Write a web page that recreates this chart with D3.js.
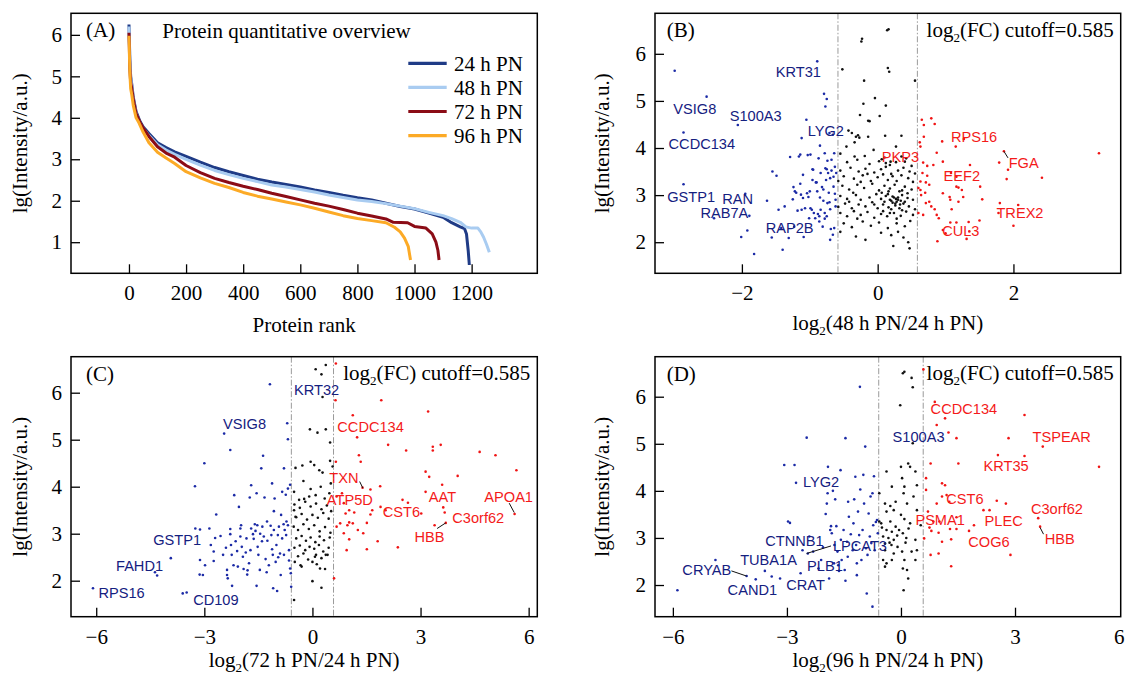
<!DOCTYPE html>
<html>
<head>
<meta charset="utf-8">
<script src="https://cdn.jsdelivr.net/npm/d3@7"></script>
<style>
  body { margin: 0; background: #fff; }
</style>
</head>
<body>
<svg id="chart" width="1125" height="675"></svg>
<script>
// ---- Panel A: rank curves ----
const seriesNames = ['24 h PN', '48 h PN', '72 h PN', '96 h PN'];
const rank24 = [0,1,3,6,10,15,25,38,50,70,100,130,160,200,250,300,350,400,450,500,550,600,650,700,750,800,850,900,950,1000,1050,1100,1130,1160,1175,1182,1188,1192];
const int24  = [6.25,6.0,5.4,5.0,4.8,4.5,4.15,3.92,3.78,3.62,3.4,3.28,3.18,3.07,2.93,2.8,2.7,2.61,2.52,2.45,2.39,2.33,2.26,2.2,2.13,2.07,2.02,1.94,1.86,1.8,1.7,1.6,1.47,1.37,1.33,1.2,0.8,0.45];
const rank48 = [0,1,3,6,10,15,25,38,50,70,100,130,160,200,250,300,350,400,450,500,550,600,650,700,750,800,850,900,950,1000,1050,1100,1130,1160,1180,1200,1222,1232,1242,1252,1262];
const int48  = [6.2,5.95,5.35,4.95,4.75,4.45,4.1,3.88,3.74,3.57,3.35,3.22,3.12,3.0,2.86,2.73,2.63,2.54,2.46,2.38,2.33,2.27,2.21,2.14,2.08,2.02,1.98,1.93,1.87,1.81,1.72,1.64,1.57,1.48,1.37,1.34,1.34,1.25,1.12,0.95,0.76];
const rank72 = [0,1,3,6,10,15,25,38,50,70,100,130,160,200,250,300,350,400,450,500,550,600,650,700,750,800,850,900,926,976,1000,1040,1062,1075,1082,1086];
const int72  = [6.05,5.8,5.2,4.85,4.7,4.45,4.1,3.9,3.75,3.55,3.3,3.15,3.05,2.85,2.68,2.54,2.44,2.35,2.27,2.18,2.1,2.02,1.94,1.87,1.79,1.7,1.63,1.56,1.48,1.47,1.38,1.34,1.2,1.0,0.8,0.57];
const rank96 = [0,1,3,6,10,15,25,35,50,70,100,130,160,200,250,300,350,400,450,500,550,600,650,700,750,800,850,900,930,950,965,978,986];
const int96  = [5.98,5.7,5.1,4.7,4.55,4.3,4.0,3.88,3.65,3.4,3.17,3.03,2.9,2.7,2.55,2.42,2.32,2.2,2.11,2.04,1.97,1.9,1.82,1.73,1.64,1.57,1.52,1.47,1.36,1.25,1.1,0.9,0.57];
const rankTicks = [0, 200, 400, 600, 800, 1000, 1200];
const intTicksA = [1, 2, 3, 4, 5, 6];

// ---- Panel B: 48 h vs 24 h ----
const pointsB = [
  // down
  [-2.99,5.64],[-2.52,5.09],[-2.86,4.33],[-2.06,4.49],[-2.86,3.23],[-2.41,2.51],[-1.95,3.03],[-1.89,2.56],[-2.01,2.11],[-1.92,2.25],
  [-1.82,1.75],[-1.63,2.88],[-1.56,2.10],[-1.55,3.50],[-1.49,3.41],[-1.46,2.69],[-1.40,1.84],[-1.37,2.76],[-1.31,2.09],[-1.29,3.81],
  [-1.24,3.17],[-1.18,2.67],[-1.16,3.82],[-1.14,3.24],[-1.13,3.01],[-1.12,4.21],[-1.10,3.43],[-1.09,2.11],[-1.07,2.72],[-1.05,4.60],
  [-1.03,3.85],[-1.02,2.96],[-1.01,2.51],[-1.00,3.08],[-0.97,2.69],[-0.95,3.54],[-0.94,2.62],[-0.92,2.51],[-0.91,3.27],[-0.89,5.84],
  [-0.89,3.08],[-0.87,3.78],[-0.86,2.44],[-0.85,4.05],[-0.84,2.69],[-0.82,3.17],[-0.81,2.33],[-0.79,5.15],[-0.78,3.89],[-0.77,4.88],
  [-0.77,3.57],[-0.76,3.32],[-0.75,5.04],[-0.74,2.83],[-0.73,3.47],[-0.71,4.32],[-0.70,2.05],[-0.69,2.28],[-0.68,3.75],[-0.66,4.28],
  [-0.65,3.39],[-0.64,3.89],[-0.62,2.90],[-0.61,3.47],[-0.66,2.16],[-0.64,2.30],[-0.62,2.76],[-1.23,2.33],[-1.42,2.30],[-0.80,3.12],
  [-0.72,3.05],[-0.68,3.52],[-0.63,3.60],[-0.85,2.95],[-0.70,2.70],[-0.75,2.55],[-0.88,2.60],[-0.96,3.32],[-1.20,3.05],[-1.14,3.86],
  [-0.99,3.86],[-0.74,3.73],[-0.96,3.55],[-0.75,3.55],[-0.84,3.47],[-0.70,3.36],[-0.90,3.27],[-1.22,3.08],[-1.04,3.04],[-0.63,3.03],
  [-1.10,2.94],[-0.80,2.88],[-0.71,2.85],[-1.12,2.69],[-0.99,2.72],[-0.78,2.62],[-0.86,2.55],[-0.78,2.50],[-1.25,2.91],[-0.65,3.18],
  // unchanged
  [0.16,6.52],[0.14,6.50],[-0.24,6.26],[-0.23,6.32],[-0.52,5.67],[0.15,5.70],[0.17,5.62],[-0.20,5.43],[0.55,5.43],[-0.04,5.06],
  [-0.21,4.94],[0.12,4.90],[-0.26,4.70],[0.03,4.68],[-0.14,4.58],[-0.12,4.57],[-0.43,4.37],[-0.38,4.32],[-0.32,4.24],[-0.29,4.27],
  [-0.27,4.22],[-0.14,4.24],[0.11,4.26],[0.35,4.26],[-0.34,4.12],[0.27,4.03],[-0.46,4.03],[-0.55,3.88],[-0.34,3.82],[-0.19,3.83],
  [-0.06,3.96],[0.06,3.76],[0.12,3.68],[0.19,3.71],[0.35,3.82],[0.40,3.71],
  [-0.45,3.70],[-0.30,3.75],[-0.12,3.66],[0.02,3.72],[0.10,3.80],[0.18,3.64],[0.27,3.70],[0.42,3.78],[0.50,3.62],
  [-0.55,3.52],[-0.40,3.58],[-0.28,3.50],[-0.18,3.56],[-0.05,3.48],[0.05,3.55],[0.12,3.60],[0.20,3.45],[0.30,3.52],[0.38,3.58],[0.47,3.50],[0.55,3.46],
  [-0.50,3.40],[-0.35,3.35],[-0.22,3.42],[-0.10,3.30],[0.00,3.38],[0.08,3.44],[0.15,3.32],[0.22,3.40],[0.28,3.30],[0.35,3.42],[0.45,3.36],[0.52,3.28],[-0.58,3.30],[-0.15,3.45],
  [-0.52,3.20],[-0.42,3.12],[-0.30,3.22],[-0.20,3.15],[-0.08,3.24],[0.02,3.10],[0.10,3.20],[0.18,3.14],[0.25,3.22],[0.32,3.08],[0.40,3.18],[0.50,3.12],[-0.36,3.05],[0.06,3.05],
  [-0.55,2.98],[-0.45,2.92],[-0.32,3.00],[-0.25,2.90],[-0.12,2.95],[-0.02,3.02],[0.05,2.92],[0.12,2.98],[0.20,2.88],[0.24,2.95],[0.30,2.90],[0.36,3.00],[0.44,2.94],[0.52,2.90],[0.15,3.02],[0.28,2.86],
  [-0.58,2.75],[-0.48,2.82],[-0.38,2.72],[-0.28,2.80],[-0.18,2.76],[-0.08,2.85],[0.00,2.72],[0.08,2.80],[0.16,2.74],[0.22,2.84],[0.26,2.78],[0.32,2.72],[0.38,2.82],[0.46,2.76],[0.55,2.70],[0.20,2.70],
  [-0.55,2.62],[-0.45,2.55],[-0.35,2.66],[-0.25,2.58],[-0.15,2.64],[-0.05,2.52],[0.05,2.60],[0.14,2.55],[0.24,2.62],[0.34,2.56],[0.42,2.65],[0.52,2.58],
  [-0.50,2.40],[-0.38,2.32],[-0.22,2.44],[-0.10,2.35],[0.02,2.42],[0.15,2.30],[0.28,2.40],[0.40,2.34],[0.48,2.45],
  [-0.55,2.22],[-0.32,2.12],[-0.18,2.05],[0.05,2.20],[0.20,2.15],[0.30,2.22],[0.45,2.00],[0.38,2.10],[0.23,1.92],[0.47,1.87],
  [0.18,2.90],[0.22,2.97],[0.26,2.82],[0.30,2.95],[0.34,2.88],[0.40,2.86],[0.27,2.92],[0.33,2.80],[0.10,2.86],[-0.05,2.80],
  [0.16,3.08],[0.36,3.10],[0.44,3.04],[-0.25,3.28],[-0.42,2.86],[0.08,2.66],[0.18,2.62],[0.36,2.68],[-0.30,2.50],[0.28,2.50],
  // up
  [0.65,4.60],[0.68,4.49],[0.79,4.63],[0.84,4.51],[0.68,4.24],[0.62,4.12],[0.63,4.03],[0.95,4.14],[1.15,4.03],[1.27,4.19],
  [0.87,3.90],[0.67,3.69],[0.73,3.62],[0.82,3.64],[0.96,3.71],[0.66,3.47],[0.73,3.41],[0.63,3.29],[0.71,3.27],[0.76,3.22],
  [0.60,3.15],[0.63,3.11],[1.08,3.47],[1.16,3.39],[1.36,3.64],[1.16,3.18],[1.19,3.16],[1.51,3.18],[1.26,2.96],[0.96,3.04],
  [1.06,2.96],[1.07,2.90],[1.19,2.86],[1.54,2.91],[0.71,2.83],[0.76,2.86],[0.79,2.76],[0.84,2.70],[0.87,2.58],[0.90,2.51],
  [0.67,2.58],[0.60,2.62],[1.09,2.70],[0.96,2.26],[1.07,2.42],[1.16,2.42],[1.34,2.43],[1.35,2.23],[1.31,2.07],[1.50,2.46],
  [0.88,2.02],[1.00,2.19],[1.79,3.69],[1.86,3.93],[1.92,3.54],[1.90,3.34],[2.42,3.37],[3.26,3.89],[1.80,2.83],[1.78,2.62],
  [2.07,2.79],[2.00,2.35],[0.64,3.00],[0.70,3.05],[1.24,3.11]
];
const labelsB = [
  ['KRT31',-1.50,5.62],['VSIG8',-3.01,4.83],['S100A3',-2.18,4.69],['CCDC134',-3.08,4.10],['LYG2',-1.03,4.36],
  ['GSTP1',-3.10,2.97],['RAN',-2.29,2.92],['RAB7A',-2.61,2.62],['RAP2B',-1.65,2.30],
  ['RPS16',1.08,4.24],['PKP3',0.06,3.81],['FGA',1.93,3.69],['EEF2',0.97,3.42],['TREX2',1.75,2.62],['CUL3',0.95,2.24]
];
const leadersB = [[1.86,3.93,1.92,3.79]];

// ---- Panel C: 72 h vs 24 h ----
const pointsC = [
  [-6.09,1.84],[-4.37,2.18],[-4.31,2.11],[-3.93,2.48],[-3.60,1.73],[-3.49,1.75],[-3.26,4.01],[-3.25,3.11],[-3.12,3.09],[-3.12,2.44],
  [-2.98,2.33],[-3.13,2.13],[-3.04,2.12],[-3.00,4.50],[-2.86,3.11],[-2.82,2.76],[-2.74,2.62],[-2.74,2.42],[-2.67,3.41],[-2.70,2.91],
  [-2.48,2.55],[-2.45,5.13],[-2.37,2.23],[-2.37,2.12],[-2.35,2.05],[-2.28,4.78],[-2.28,3.10],[-2.28,2.99],[-2.26,2.76],[-2.24,2.55],
  [-2.23,1.89],[-2.19,2.33],[-2.17,3.82],[-2.13,2.84],[-2.09,2.63],[-2.07,2.30],[-2.04,3.57],[-2.00,3.11],[-2.00,2.94],[-1.98,3.18],
  [-1.96,2.72],[-1.93,2.51],[-1.91,2.25],[-1.83,2.90],[-1.81,2.13],[-1.80,2.22],[-1.76,2.37],[-1.74,3.77],[-1.70,4.03],[-1.72,2.65],
  [-1.70,3.11],[-1.65,2.99],[-1.63,2.89],[-1.58,3.06],[-1.55,1.89],[-1.55,3.86],[-1.53,3.18],[-1.52,2.72],[-1.46,2.23],[-1.42,4.39],
  [-1.40,2.84],[-1.37,4.66],[-1.39,3.15],[-1.35,2.94],[-1.33,3.77],[-1.30,2.46],[-1.27,2.18],[-1.26,3.26],[-1.21,2.33],[-1.18,6.18],
  [-1.16,3.17],[-1.14,2.97],[-1.12,2.67],[-1.12,4.07],[-1.09,1.84],[-1.07,3.48],[-1.07,3.08],[-1.05,3.75],[-1.02,2.40],[-1.00,2.76],
  [-0.98,1.78],[-0.96,2.97],[-0.93,3.15],[-0.90,2.58],[-0.88,2.12],[-0.87,3.40],[-0.84,3.89],[-0.84,2.90],[-0.79,4.39],[-0.79,2.55],
  [-0.77,3.08],[-0.74,3.83],[-0.72,3.26],[-0.70,5.35],[-0.68,5.01],[-0.68,3.96],[-0.65,2.65],[-0.62,2.26],[-0.60,2.16],[-0.59,1.87],
  [-0.62,4.04],[-0.73,2.97],[-0.68,3.18],[-0.65,2.43],[-1.60,3.20],[-1.45,3.00],[-1.25,2.85],[-0.95,2.50],[-1.85,2.60],[-2.40,2.70],
  [-1.10,2.55],[-0.80,3.20],[-1.50,2.55],[-2.55,2.95],
  [-0.51,1.59],[0.09,6.50],[0.37,6.59],[0.25,6.39],[0.28,5.91],[-0.07,5.22],[0.14,5.15],[0.37,5.22],[0.49,4.94],[-0.47,4.40],
  [-0.28,4.45],[-0.05,4.53],[0.05,4.46],[0.19,4.35],[0.28,4.30],[0.49,4.55],[0.56,4.43],[-0.25,4.12],[-0.05,3.95],[0.23,4.00],
  [0.51,4.07],[-0.51,3.89],[-0.37,3.72],[-0.23,3.74],[-0.09,3.79],[0.09,3.82],[0.34,3.75],[0.47,3.86],[-0.51,3.50],[-0.47,3.36],
  [0.00,1.99],[0.25,1.85],[0.21,2.26],[0.00,2.40],[0.07,2.51],[0.37,2.55],[-0.33,2.33],[-0.49,2.40],
  [-0.50,3.62],[-0.35,3.55],[-0.20,3.68],[-0.05,3.58],[0.10,3.64],[0.25,3.52],[0.40,3.60],[0.52,3.48],
  [-0.45,3.35],[-0.30,3.42],[-0.15,3.30],[0.00,3.40],[0.15,3.34],[0.30,3.44],[0.45,3.32],
  [-0.52,3.15],[-0.40,3.08],[-0.25,3.20],[-0.10,3.10],[0.05,3.18],[0.20,3.05],[0.35,3.14],[0.50,3.02],
  [-0.45,2.90],[-0.30,2.95],[-0.18,2.85],[-0.05,2.92],[0.08,2.82],[0.20,2.94],[0.32,2.86],[0.48,2.92],
  [-0.50,2.70],[-0.35,2.75],[-0.20,2.65],[-0.08,2.72],[0.05,2.68],[0.18,2.76],[0.30,2.62],[0.45,2.70],
  [-0.40,2.52],[-0.25,2.58],[-0.12,2.45],[0.10,2.55],[0.25,2.48],[0.42,2.55],[-0.30,2.30],[0.12,2.35],[0.35,2.25],
  [0.65,6.62],[0.64,5.84],[1.91,5.84],[1.12,5.52],[3.21,5.60],[1.24,5.05],[2.10,4.89],[2.60,4.77],[3.34,4.85],[3.34,4.77],
  [3.56,4.89],[4.64,4.74],[5.08,4.67],[1.29,4.67],[1.34,4.53],[0.65,4.53],[3.14,4.32],[3.24,4.21],[4.03,4.23],[5.66,4.35],
  [1.88,4.01],[1.61,3.94],[1.39,3.98],[3.60,4.04],[3.14,3.89],[0.82,3.86],[2.50,3.72],[2.65,3.66],[1.89,3.57],[2.03,3.50],
  [0.67,3.79],[0.87,3.65],[1.02,3.50],[1.16,3.45],[0.92,3.43],[1.66,3.50],[1.61,3.41],[3.02,3.43],[3.63,3.56],[3.67,3.45],
  [3.70,3.23],[5.61,3.42],[3.39,3.18],[0.67,3.15],[0.77,3.22],[0.97,3.18],[1.02,3.24],[1.12,3.22],[1.26,3.08],[1.51,3.23],
  [1.41,3.01],[0.87,3.01],[1.02,2.88],[1.81,2.84],[1.51,2.67],[0.95,2.65],[2.37,2.71],[0.60,2.05]
];
const labelsC = [
  ['KRT32',-0.51,6.06],['VSIG8',-2.48,5.35],['GSTP1',-4.42,2.88],['FAHD1',-5.45,2.31],['RPS16',-5.94,1.75],['CD109',-3.31,1.60],
  ['CCDC134',0.69,5.28],['TXN',0.47,4.19],['ATP5D',0.40,3.72],['AAT',3.23,3.79],['APOA1',4.77,3.79],['CST6',1.95,3.47],
  ['C3orf62',3.88,3.35],['HBB',2.83,2.94]
];
const leadersC = [[1.31,4.11,1.40,3.97],[5.46,3.65,5.60,3.45],[3.46,3.11,3.70,3.23]];

// ---- Panel D: 96 h vs 24 h ----
const pointsD = [
  [-5.88,1.89],[-4.88,2.53],[-4.06,2.19],[-3.82,2.12],[-3.58,2.30],[-3.40,2.18],[-3.18,2.14],[-3.07,4.55],[-2.80,4.55],[-2.97,3.35],
  [-2.92,3.32],[-2.76,4.17],[-2.64,2.25],[-2.59,2.74],[-2.48,5.13],[-2.45,2.67],[-2.41,3.03],[-2.31,2.71],[-2.17,2.35],[-2.10,2.53],
  [-1.95,3.73],[-1.93,3.95],[-1.92,4.51],[-1.89,2.14],[-1.98,3.51],[-1.86,3.17],[-1.84,3.25],[-1.82,3.10],[-1.79,4.00],[-1.76,2.46],
  [-1.73,3.82],[-1.75,2.85],[-1.70,3.25],[-1.67,2.71],[-1.65,2.42],[-1.63,2.30],[-1.59,4.44],[-1.58,2.96],[-1.56,2.53],[-1.51,3.17],
  [-1.48,2.32],[-1.46,5.12],[-1.46,2.09],[-1.42,2.92],[-1.39,3.77],[-1.37,3.45],[-1.32,3.08],[-1.27,2.74],[-1.25,3.31],[-1.23,3.82],
  [-1.20,4.30],[-1.18,2.85],[-1.16,2.46],[-1.13,3.56],[-1.10,3.06],[-1.08,6.21],[-1.07,4.03],[-1.04,2.53],[-1.01,3.17],[-0.99,4.34],
  [-0.97,3.73],[-0.94,4.94],[-0.92,2.78],[-0.90,1.82],[-0.88,2.64],[-0.85,3.52],[-0.82,3.03],[-0.80,3.88],[-0.78,2.89],[-0.75,1.54],
  [-0.75,3.95],[-0.73,3.27],[-0.71,4.31],[-0.69,2.74],[-0.66,3.34],[-0.63,3.38],[-0.61,3.10],[-1.16,2.21],[-2.05,2.80],[-1.40,2.60],
  [0.05,6.50],[0.09,6.53],[0.28,6.40],[0.31,6.20],[-0.02,5.82],[0.31,5.01],[-0.38,4.41],[0.00,4.51],[0.19,4.58],[0.24,4.51],
  [0.38,4.41],[0.03,4.27],[-0.24,4.09],[0.09,4.09],[0.42,4.12],[-0.57,3.95],[0.07,3.95],[0.33,3.88],[-0.42,3.73],[-0.28,3.68],
  [-0.14,3.77],[0.16,3.73],[-0.38,3.56],[-0.19,3.59],[0.00,3.49],[0.42,3.59],[-0.57,3.35],[-0.52,3.31],[-0.28,3.35],[-0.14,3.24],
  [0.09,3.40],[0.24,3.31],[0.52,3.27],[-0.38,3.17],[-0.24,3.13],[-0.05,3.17],[0.05,3.10],[-0.47,3.03],[-0.33,3.00],[-0.19,2.96],
  [0.14,3.00],[0.38,2.96],[-0.42,2.88],[-0.25,2.85],[-0.09,2.81],[0.12,2.90],[0.28,2.71],[-0.42,2.74],[-0.19,2.67],[0.03,2.71],
  [0.42,2.74],[-0.47,2.53],[-0.38,2.46],[-0.24,2.53],[0.09,2.53],[0.38,2.53],[-0.42,2.39],[0.05,2.35],[0.16,2.32],[0.19,2.14],
  [0.07,1.89],[-0.50,3.22],[-0.30,2.90],[0.20,3.20],[-0.10,3.05],
  [0.59,6.58],[0.89,5.89],[1.16,5.54],[3.25,5.61],[0.94,5.40],[1.25,5.24],[1.46,5.12],[2.83,5.12],[3.73,4.94],[0.78,4.58],
  [1.51,4.58],[2.55,4.76],[3.25,4.74],[5.21,4.51],[0.66,4.27],[1.08,4.16],[1.16,4.12],[0.66,4.02],[1.08,3.88],[0.94,3.73],
  [1.20,3.91],[1.27,3.77],[2.52,3.79],[2.76,3.73],[1.46,3.44],[0.71,3.56],[0.85,3.35],[0.75,3.22],[0.80,3.15],[1.01,3.35],
  [1.29,3.19],[1.46,3.19],[1.79,3.15],[1.92,3.27],[2.17,3.59],[2.33,3.59],[0.61,2.99],[1.08,2.92],[1.32,2.97],[0.99,3.11],
  [0.78,2.64],[0.99,2.67],[1.32,2.40],[2.88,2.64],[3.61,3.42],[3.66,3.24]
];
const labelsD = [
  ['CCDC134',0.78,5.75],['S100A3',-0.22,5.16],['TSPEAR',3.46,5.15],['KRT35',2.17,4.53],['LYG2',-2.58,4.19],['CST6',1.19,3.84],
  ['C3orf62',3.42,3.63],['PSMA1',0.38,3.39],['PLEC',2.20,3.36],['HBB',3.78,2.99],['COG6',1.77,2.91],
  ['CTNNB1',-3.57,2.94],['LPCAT3',-1.79,2.83],['TUBA1A',-4.23,2.53],['PLB1',-2.47,2.41],['CRYAB',-5.75,2.32],
  ['CRAT',-3.02,2.00],['CAND1',-4.56,1.89]
];
const leadersD = [[-4.46,2.30,-4.06,2.19],[-2.48,2.67,-1.84,2.83],[3.66,3.22,3.75,3.08]];

const cutoff = 0.585;

// ---- drawing ----
const SERIF = '"Liberation Serif", "Times New Roman", serif';
const SANS = '"Liberation Sans", Arial, sans-serif';
const lineColors = ['#1f3b86', '#a9ccf1', '#8b0c16', '#fcaa26'];
const W = 1125;
const svg = d3.select('#chart');
svg.append('rect').attr('width', W).attr('height', 675).attr('fill', '#fff');

function log2Text(sel, rest) {
  sel.append('tspan').text('log');
  sel.append('tspan').attr('font-size', 13).attr('dy', 5).text('2');
  sel.append('tspan').attr('dy', -5).text(rest);
}

function makeFrame(p) {
  const x = d3.scaleLinear().domain(p.xDomain).range([p.left, p.right]);
  const y = d3.scaleLinear().domain(p.yDomain).range([p.bottom, p.top]);
  const g = svg.append('g');
  const fmt = d3.format('d');

  const xa = g.append('g').attr('transform', `translate(0,${p.bottom})`)
    .call(d3.axisBottom(x).tickValues(p.xTicks).tickFormat(fmt).tickSizeInner(-9).tickSizeOuter(0).tickPadding(12));
  const ya = g.append('g').attr('transform', `translate(${p.left},0)`)
    .call(d3.axisLeft(y).tickValues(p.yTicks).tickFormat(fmt).tickSizeInner(-9).tickSizeOuter(0).tickPadding(9));
  [xa, ya].forEach(a => {
    a.attr('font-family', SERIF).attr('font-size', 21);
    a.select('.domain').remove();
    a.selectAll('.tick line').attr('stroke', '#000').attr('stroke-width', 1.3);
    a.selectAll('.tick text').attr('fill', '#000');
  });
  // a tick label that would run past the page edge is pulled back inside it
  xa.selectAll('.tick text').filter(d => x(d) + 6 > W)
    .attr('text-anchor', 'end').attr('x', d => W - 1 - x(d));

  // y label
  g.append('text')
    .attr('transform', `translate(${p.yLabelX},${(p.top + p.bottom) / 2}) rotate(-90)`)
    .attr('text-anchor', 'middle').attr('dy', '0.35em')
    .attr('font-family', SERIF).attr('font-size', 21)
    .text('lg(Intensity/a.u.)');

  // x label
  const xl = g.append('text')
    .attr('x', (p.left + p.right) / 2).attr('y', p.xLabelY)
    .attr('text-anchor', 'middle')
    .attr('font-family', SERIF).attr('font-size', 21);
  if (p.xLabelLog) log2Text(xl, p.xLabel); else xl.text(p.xLabel);

  // panel letter
  g.append('text').attr('x', p.left + p.letterDx).attr('y', p.top + 24)
    .attr('font-family', SERIF).attr('font-size', 21).text(p.letter);

  return { x, y, g };
}

function drawBox(g, p) {
  g.append('rect')
    .attr('x', p.left).attr('y', p.top)
    .attr('width', p.right - p.left).attr('height', p.bottom - p.top)
    .attr('fill', 'none').attr('stroke', '#000').attr('stroke-width', 1.5);
}

// Panel A
const pA = { left: 71, right: 537.3, top: 13.3, bottom: 273.3, xDomain: [-203, 1430], yDomain: [0.25, 6.52],
  xTicks: rankTicks, yTicks: intTicksA, yLabelX: 20, xLabelY: 332, xLabel: 'Protein rank', letter: '(A)', letterDx: 15 };
(function () {
  const { x, y, g } = makeFrame(pA);
  const data = [[rank24, int24], [rank48, int48], [rank72, int72], [rank96, int96]];
  const line = d3.line().x(d => x(d[0])).y(d => y(d[1]));
  data.forEach(([r, v], i) => {
    g.append('path').datum(d3.zip(r, v))
      .attr('d', line).attr('fill', 'none')
      .attr('stroke', lineColors[i]).attr('stroke-width', 3).attr('stroke-linejoin', 'round');
  });
  g.append('text').attr('x', 162.3).attr('y', 37.5)
    .attr('font-family', SERIF).attr('font-size', 21).text('Protein quantitative overview');
  const lg = g.append('g');
  seriesNames.forEach((name, i) => {
    const yy = 63.3 + i * 24.1;
    lg.append('line').attr('x1', 408.3).attr('x2', 446.7).attr('y1', yy).attr('y2', yy)
      .attr('stroke', lineColors[i]).attr('stroke-width', 3.2);
    lg.append('text').attr('x', 454).attr('y', yy + 7.3)
      .attr('font-family', SERIF).attr('font-size', 21).text(name);
  });
  drawBox(g, pA);
})();

function volcano(p, points, labels, leaders) {
  const { x, y, g } = makeFrame(p);
  [-cutoff, cutoff].forEach(c => {
    g.append('line').attr('x1', x(c)).attr('x2', x(c)).attr('y1', p.top).attr('y2', p.bottom)
      .attr('stroke', '#9a9a9a').attr('stroke-width', 1).attr('stroke-dasharray', '6,2,1.5,2');
  });
  g.append('g').selectAll('circle').data(points).join('circle')
    .attr('cx', d => x(d[0])).attr('cy', d => y(d[1])).attr('r', 1.3)
    .attr('fill', d => d[0] < -cutoff ? '#1b2aa6' : d[0] > cutoff ? '#f01414' : '#111');
  g.append('g').selectAll('line').data(leaders).join('line')
    .attr('x1', d => x(d[0])).attr('y1', d => y(d[1])).attr('x2', d => x(d[2])).attr('y2', d => y(d[3]))
    .attr('stroke', '#111').attr('stroke-width', 1);
  g.append('g').selectAll('text').data(labels).join('text')
    .attr('x', d => x(d[1])).attr('y', d => y(d[2])).attr('dy', '0.36em')
    .attr('font-family', SANS).attr('font-size', 14.6)
    .attr('fill', d => d[1] < 0 ? '#14207f' : '#f41a1a')
    .text(d => d[0]);
  const ann = g.append('text').attr('x', p.right - 7).attr('y', p.top + 23.4)
    .attr('text-anchor', 'end').attr('font-family', SERIF).attr('font-size', 21);
  log2Text(ann, '(FC) cutoff=0.585');
  drawBox(g, p);
}

volcano({ left: 655, right: 1120.7, top: 13.3, bottom: 273.3, xDomain: [-3.28, 3.58], yDomain: [1.34, 6.86],
  xTicks: [-2, 0, 2], yTicks: [2, 3, 4, 5, 6], yLabelX: 601.7, xLabelY: 330, xLabelLog: true,
  xLabel: '(48 h PN/24 h PN)', letter: '(B)', letterDx: 11.7 }, pointsB, labelsB, leadersB);

volcano({ left: 71, right: 537.3, top: 356.7, bottom: 616.7, xDomain: [-6.70, 6.24], yDomain: [1.234, 6.766],
  xTicks: [-6, -3, 0, 3, 6], yTicks: [2, 3, 4, 5, 6], yLabelX: 20, xLabelY: 667, xLabelLog: true,
  xLabel: '(72 h PN/24 h PN)', letter: '(C)', letterDx: 15 }, pointsC, labelsC, leadersC);

volcano({ left: 655, right: 1120.7, top: 356.7, bottom: 616.7, xDomain: [-6.47, 5.78], yDomain: [1.327, 6.85],
  xTicks: [-6, -3, 0, 3, 6], yTicks: [2, 3, 4, 5, 6], yLabelX: 601.7, xLabelY: 667, xLabelLog: true,
  xLabel: '(96 h PN/24 h PN)', letter: '(D)', letterDx: 11.7 }, pointsD, labelsD, leadersD);
</script>
</body>
</html>
